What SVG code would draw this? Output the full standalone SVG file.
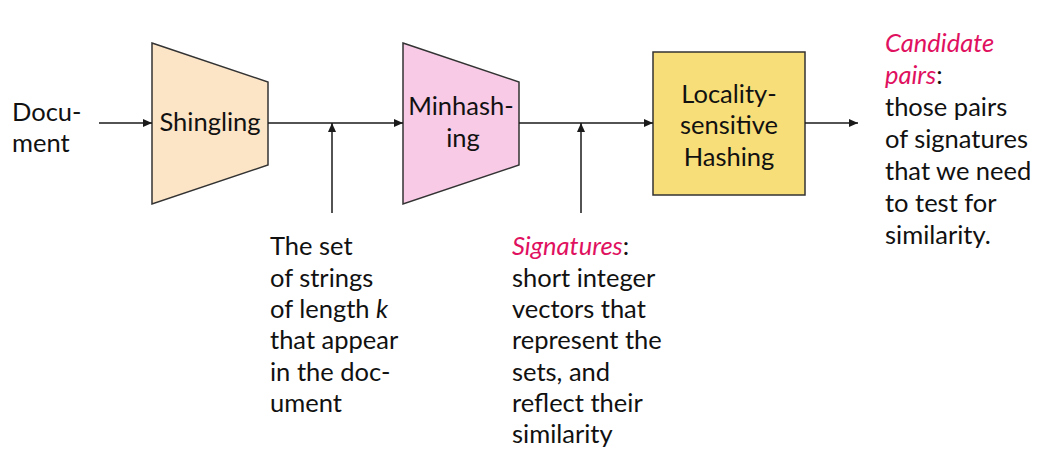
<svg xmlns="http://www.w3.org/2000/svg" width="1048" height="464" viewBox="0 0 1048 464">
<defs>
<marker id="ah" markerWidth="9" markerHeight="8" refX="9" refY="4" orient="auto" markerUnits="userSpaceOnUse">
<path d="M0,0 L9,4 L0,8 Z" fill="#1a1a1a"/>
</marker>
<style>
text{font-family:Lato,"Noto Sans","Liberation Sans",sans-serif;font-size:25.5px;fill:#111}
.c{text-anchor:middle}
.hl{fill:#E0115F;font-style:italic}
.shape{stroke:#333;stroke-width:1.5}
.ln{stroke:#1a1a1a;stroke-width:1.5;fill:none}
</style>
</defs>
<rect width="1048" height="464" fill="#fff"/>
<g id="document">
<text x="12" y="121">Docu-</text>
<text x="12" y="152">ment</text>
</g>
<g id="shingling">
<polygon class="shape" points="152,43 268,82 268,165 152,204" fill="#FCE4C6"/>
<text class="c" x="210" y="131">Shingling</text>
</g>
<g id="minhashing">
<polygon class="shape" points="403,43 519,82 519,165 403,204" fill="#F8CAE6"/>
<text class="c" x="461" y="115">Minhash-</text>
<text class="c" x="463" y="147">ing</text>
</g>
<g id="lsh">
<rect class="shape" x="653" y="52" width="152" height="143" fill="#F8DE78"/>
<text class="c" x="729" y="103">Locality-</text>
<text class="c" x="729" y="134">sensitive</text>
<text class="c" x="729" y="166">Hashing</text>
</g>
<g id="connectors">
<line class="ln" x1="99" y1="123" x2="152" y2="123" marker-end="url(#ah)"/>
<line class="ln" x1="268" y1="123" x2="403" y2="123" marker-end="url(#ah)"/>
<line class="ln" x1="332" y1="213" x2="332" y2="123" marker-end="url(#ah)"/>
<line class="ln" x1="519" y1="123" x2="653" y2="123" marker-end="url(#ah)"/>
<line class="ln" x1="581" y1="213" x2="581" y2="123" marker-end="url(#ah)"/>
<line class="ln" x1="805" y1="123" x2="858" y2="123" marker-end="url(#ah)"/>
</g>
<g id="shingles-label">
<text x="270" y="255">The set</text>
<text x="270" y="287">of strings</text>
<text x="270" y="318">of length <tspan font-style="italic">k</tspan></text>
<text x="270" y="349">that appear</text>
<text x="270" y="381">in the doc-</text>
<text x="270" y="412">ument</text>
</g>
<g id="signatures-label">
<text x="512" y="255"><tspan class="hl">Signatures</tspan>:</text>
<text x="512" y="287">short integer</text>
<text x="512" y="318">vectors that</text>
<text x="512" y="349">represent the</text>
<text x="512" y="381">sets, and</text>
<text x="512" y="412">reflect their</text>
<text x="512" y="443">similarity</text>
</g>
<g id="candidates-label">
<text x="885" y="52" class="hl">Candidate</text>
<text x="885" y="84"><tspan class="hl">pairs</tspan>:</text>
<text x="885" y="116">those pairs</text>
<text x="885" y="148">of signatures</text>
<text x="885" y="180">that we need</text>
<text x="885" y="212">to test for</text>
<text x="885" y="244">similarity.</text>
</g>
</svg>
